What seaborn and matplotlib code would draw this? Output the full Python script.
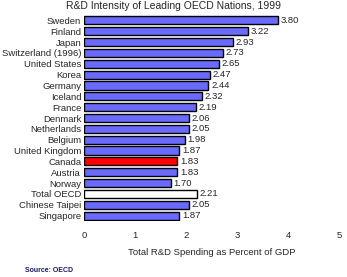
import matplotlib
matplotlib.use("Agg")
import matplotlib.pyplot as plt
import seaborn as sns
import pandas as pd

countries = ["Sweden", "Finland", "Japan", "Switzerland (1996)", "United States", "Korea",
             "Germany", "Iceland", "France", "Denmark", "Netherlands", "Belgium",
             "United Kingdom", "Canada", "Austria", "Norway", "Total OECD",
             "Chinese Taipei", "Singapore"]
values = [3.80, 3.22, 2.93, 2.73, 2.65, 2.47, 2.44, 2.32, 2.19, 2.06, 2.05, 1.98,
          1.87, 1.83, 1.83, 1.70, 2.21, 2.05, 1.87]
xticks = [0, 1, 2, 3, 4, 5]

blue = "#6a6afc"
colors = []
for c in countries:
    if c == "Canada":
        colors.append("#ff0000")
    elif c == "Total OECD":
        colors.append("#ffffff")
    else:
        colors.append(blue)

df = pd.DataFrame({"country": countries, "value": values})

sns.set_style("white")
plt.rcParams["font.family"] = ["Liberation Sans", "DejaVu Sans"]

fig = plt.figure(figsize=(3.47, 2.77), dpi=100)
ax = fig.add_axes([0.242, 0.202, 0.735, 0.744])

sns.barplot(data=df, x="value", y="country", hue="country", palette=colors,
            legend=False, orient="h", width=0.75, edgecolor="black", linewidth=1,
            saturation=1, ax=ax)

for i, v in enumerate(values):
    ax.text(v + 0.05, i, f"{v:.2f}", va="center", ha="left", fontsize=6.8)

ax.set_xlim(0, 5)
ax.set_ylim(len(countries) - 0.5, -0.5)
ax.set_xticks(xticks)
ax.set_xticklabels([str(t) for t in xticks], fontsize=6.8)
ax.tick_params(axis="x", length=0, pad=7)
ax.tick_params(axis="y", length=0, pad=2, labelsize=6.8)
ax.set_ylabel("")
ax.set_xlabel("Total R&D Spending as Percent of GDP", fontsize=6.8, labelpad=6)
for s in ax.spines.values():
    s.set_visible(False)

fig.text(0.5, 0.978, "R&D Intensity of Leading OECD Nations, 1999", ha="center",
         va="center", fontsize=7.5)
fig.text(0.072, 0.025, "Source: OECD", ha="left", va="center", fontsize=5,
         fontweight="bold", color="#1a1a66")

fig.savefig("out.png", dpi=100)
